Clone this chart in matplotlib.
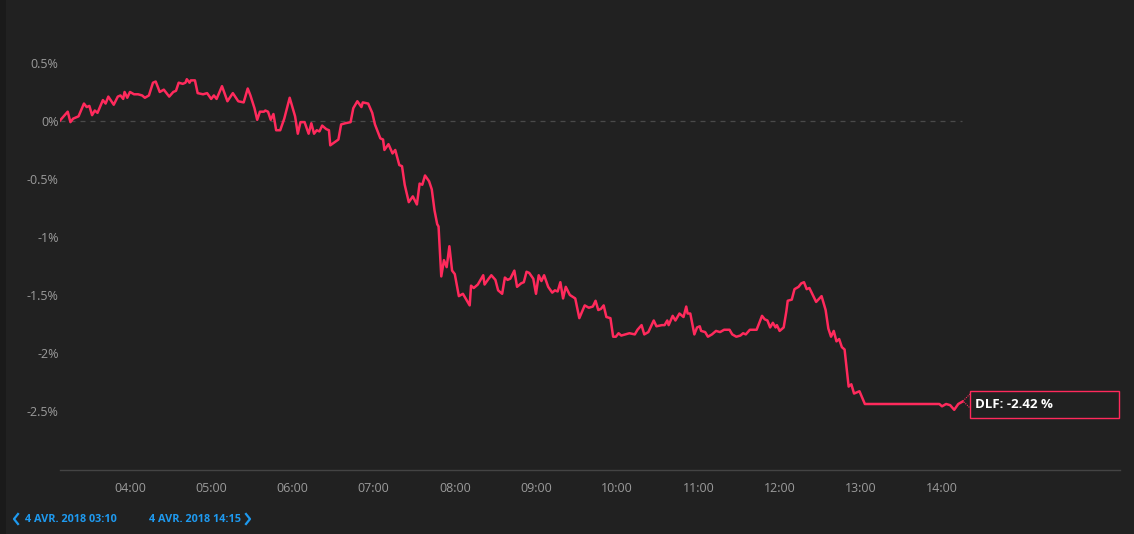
import matplotlib.pyplot as plt
from matplotlib.patches import Rectangle
from matplotlib.lines import Line2D

plt.rcParams["font.family"] = ["Open Sans", "DejaVu Sans"]

# time of day (HH:MM) and DLF change in %
times = [
    "03:08", "03:14", "03:16", "03:18", "03:22", "03:26", "03:28", "03:30", "03:32", "03:34",
    "03:36", "03:40", "03:42", "03:44", "03:48", "03:51", "03:53", "03:55", "03:56", "03:58",
    "04:00", "04:03", "04:06", "04:09", "04:11", "04:14", "04:17", "04:19", "04:22", "04:25",
    "04:29", "04:32", "04:34", "04:36", "04:39", "04:41", "04:42", "04:44", "04:45", "04:48",
    "04:50", "04:54", "04:57", "05:00", "05:02", "05:04", "05:08", "05:12", "05:16", "05:20",
    "05:24", "05:27", "05:29", "05:32", "05:34", "05:36", "05:39", "05:40", "05:42", "05:44",
    "05:46", "05:48", "05:51", "05:54", "05:58", "06:02", "06:04", "06:06", "06:09", "06:12",
    "06:14", "06:16", "06:18", "06:20", "06:22", "06:25", "06:27", "06:28", "06:34", "06:36",
    "06:39", "06:43", "06:45", "06:48", "06:51", "06:52", "06:56", "06:59", "07:01", "07:05",
    "07:07", "07:08", "07:11", "07:14", "07:16", "07:19", "07:21", "07:23", "07:26", "07:29",
    "07:32", "07:34", "07:36", "07:38", "07:41", "07:43", "07:45", "07:47", "07:48", "07:50",
    "07:52", "07:54", "07:56", "07:58", "08:00", "08:03", "08:06", "08:11", "08:12", "08:14",
    "08:17", "08:21", "08:22", "08:25", "08:27", "08:30", "08:32", "08:35", "08:37", "08:39",
    "08:41", "08:44", "08:46", "08:49", "08:51", "08:53", "08:55", "08:58", "09:00", "09:02",
    "09:04", "09:06", "09:09", "09:12", "09:14", "09:16", "09:18", "09:20", "09:22", "09:25",
    "09:29", "09:32", "09:36", "09:39", "09:42", "09:44", "09:46", "09:48", "09:50", "09:52",
    "09:55", "09:57", "09:59", "10:01", "10:03", "10:06", "10:09", "10:13", "10:15", "10:18",
    "10:20", "10:23", "10:27", "10:29", "10:33", "10:35", "10:37", "10:38", "10:41", "10:43",
    "10:46", "10:49", "10:51", "10:52", "10:54", "10:57", "10:59", "11:01", "11:02", "11:05",
    "11:07", "11:10", "11:13", "11:16", "11:19", "11:23", "11:25", "11:28", "11:31", "11:33",
    "11:35", "11:38", "11:43", "11:47", "11:49", "11:51", "11:53", "11:55", "11:57", "11:58",
    "12:00", "12:03", "12:05", "12:06", "12:09", "12:11", "12:14", "12:16", "12:18", "12:20",
    "12:22", "12:27", "12:31", "12:34", "12:36", "12:38", "12:40", "12:42", "12:44", "12:46",
    "12:48", "12:51", "12:53", "12:55", "12:59", "13:03", "13:58", "14:00", "14:03", "14:06",
    "14:09", "14:12", "14:15",
]
dlf = [
    0.00, 0.08, -0.01, 0.02, 0.04, 0.15, 0.12, 0.13, 0.05, 0.09,
    0.07, 0.18, 0.15, 0.21, 0.14, 0.21, 0.22, 0.19, 0.25, 0.20,
    0.25, 0.23, 0.23, 0.22, 0.20, 0.22, 0.33, 0.34, 0.25, 0.27,
    0.21, 0.25, 0.26, 0.33, 0.32, 0.33, 0.36, 0.33, 0.35, 0.35,
    0.24, 0.23, 0.24, 0.19, 0.22, 0.19, 0.30, 0.17, 0.24, 0.17,
    0.16, 0.28, 0.22, 0.11, 0.01, 0.08, 0.08, 0.09, 0.08, 0.01,
    0.06, -0.08, -0.08, 0.02, 0.20, 0.04, -0.11, -0.01, -0.01, -0.11,
    -0.02, -0.11, -0.08, -0.09, -0.04, -0.07, -0.08, -0.21, -0.16, -0.03,
    -0.02, -0.01, 0.11, 0.17, 0.12, 0.16, 0.15, 0.07, -0.03, -0.15,
    -0.16, -0.25, -0.20, -0.28, -0.25, -0.38, -0.39, -0.55, -0.70, -0.65,
    -0.72, -0.54, -0.55, -0.47, -0.52, -0.59, -0.77, -0.89, -0.91, -1.34,
    -1.20, -1.26, -1.08, -1.29, -1.32, -1.51, -1.49, -1.59, -1.42, -1.44,
    -1.41, -1.33, -1.41, -1.36, -1.33, -1.37, -1.46, -1.49, -1.35, -1.37,
    -1.36, -1.29, -1.43, -1.40, -1.39, -1.30, -1.31, -1.36, -1.49, -1.33,
    -1.38, -1.33, -1.43, -1.48, -1.46, -1.47, -1.39, -1.53, -1.43, -1.50,
    -1.53, -1.70, -1.59, -1.61, -1.60, -1.55, -1.63, -1.62, -1.59, -1.69,
    -1.70, -1.86, -1.86, -1.83, -1.85, -1.84, -1.83, -1.84, -1.80, -1.76,
    -1.84, -1.82, -1.72, -1.77, -1.76, -1.76, -1.72, -1.76, -1.68, -1.72,
    -1.66, -1.69, -1.60, -1.66, -1.66, -1.84, -1.78, -1.77, -1.81, -1.82,
    -1.86, -1.84, -1.81, -1.82, -1.80, -1.80, -1.84, -1.86, -1.85, -1.83,
    -1.84, -1.80, -1.80, -1.68, -1.71, -1.72, -1.78, -1.74, -1.78, -1.76,
    -1.81, -1.78, -1.64, -1.55, -1.54, -1.45, -1.43, -1.40, -1.39, -1.45,
    -1.44, -1.56, -1.51, -1.63, -1.79, -1.86, -1.81, -1.90, -1.88, -1.95,
    -1.97, -2.29, -2.27, -2.35, -2.33, -2.44, -2.44, -2.46, -2.44, -2.45,
    -2.49, -2.44, -2.42,
]

y_ticks = [0.5, 0, -0.5, -1, -1.5, -2, -2.5]
y_labels = ["0.5%", "0%", "-0.5%", "-1%", "-1.5%", "-2%", "-2.5%"]
x_tick_labels = ["04:00", "05:00", "06:00", "07:00", "08:00", "09:00",
                 "10:00", "11:00", "12:00", "13:00", "14:00"]
range_start = "4 AVR. 2018 03:10"
range_end = "4 AVR. 2018 14:15"
series_name = "DLF"


def to_min(s):
    h, m = s.split(":")
    return (int(h) - 3) * 60 + int(m)


x = [to_min(t) for t in times]
x_ticks = [to_min(t) for t in x_tick_labels]

bg = "#212121"
red = "#ff2a5c"
grey = "#9b9b9b"
blue = "#1e9af0"

W, H = 1134, 534
fig = plt.figure(figsize=(W / 100, H / 100), dpi=100, facecolor=bg)
fig.patches.append(Rectangle((0, 0), 6 / W, 1, transform=fig.transFigure,
                             facecolor="#1a1a1a", edgecolor="none"))

ax = fig.add_axes([60 / W, (H - 470) / H, (1120 - 60) / W, (470 - 40) / H])
ax.set_facecolor(bg)

ax.hlines(0, x[0], x[-1], colors="#4a4a4a", linestyles=(0, (4, 4)), linewidth=0.9)
ax.plot(x, dlf, color=red, linewidth=1.8, solid_joinstyle="round")

ax.set_xlim(8.3, 791.5)
ax.set_ylim(-3.009, 0.698)
ax.set_yticks(y_ticks)
ax.set_yticklabels(y_labels)
ax.set_xticks(x_ticks)
ax.set_xticklabels(x_tick_labels)
ax.tick_params(axis="both", length=0, colors=grey, labelsize=9)
ax.tick_params(axis="y", pad=1)
ax.tick_params(axis="x", pad=9)
for side in ["top", "right", "left"]:
    ax.spines[side].set_visible(False)
ax.spines["bottom"].set_color("#444444")
ax.spines["bottom"].set_linewidth(1)

# value label box
fig.patches.append(Rectangle((970 / W, (H - 418) / H), 149 / W, 27 / H,
                             transform=fig.transFigure, facecolor=bg,
                             edgecolor=red, linewidth=1))
fig.lines.append(Line2D([970 / W, 963 / W, 970 / W],
                        [(H - 394) / H, (H - 401) / H, (H - 408) / H],
                        transform=fig.transFigure, color=red,
                        linewidth=0.8, linestyle=(0, (1, 1))))
fig.text(975 / W, (H - 404.5) / H, f"{series_name}: {dlf[-1]:.2f} %",
         color="white", fontsize=9.5, fontweight="bold", va="center", ha="left")

# date range navigation
fig.lines.append(Line2D([18 / W, 14 / W, 18 / W],
                        [(H - 514) / H, (H - 519) / H, (H - 524) / H],
                        transform=fig.transFigure, color=blue, linewidth=1.6))
fig.lines.append(Line2D([246 / W, 250 / W, 246 / W],
                        [(H - 514) / H, (H - 519) / H, (H - 524) / H],
                        transform=fig.transFigure, color=blue, linewidth=1.6))
fig.text(25 / W, (H - 519) / H, range_start, color=blue, fontsize=7.8,
         fontweight="bold", va="center", ha="left")
fig.text(149 / W, (H - 519) / H, range_end, color=blue, fontsize=7.8,
         fontweight="bold", va="center", ha="left")

fig.savefig("out.png", dpi=100, facecolor=bg)
